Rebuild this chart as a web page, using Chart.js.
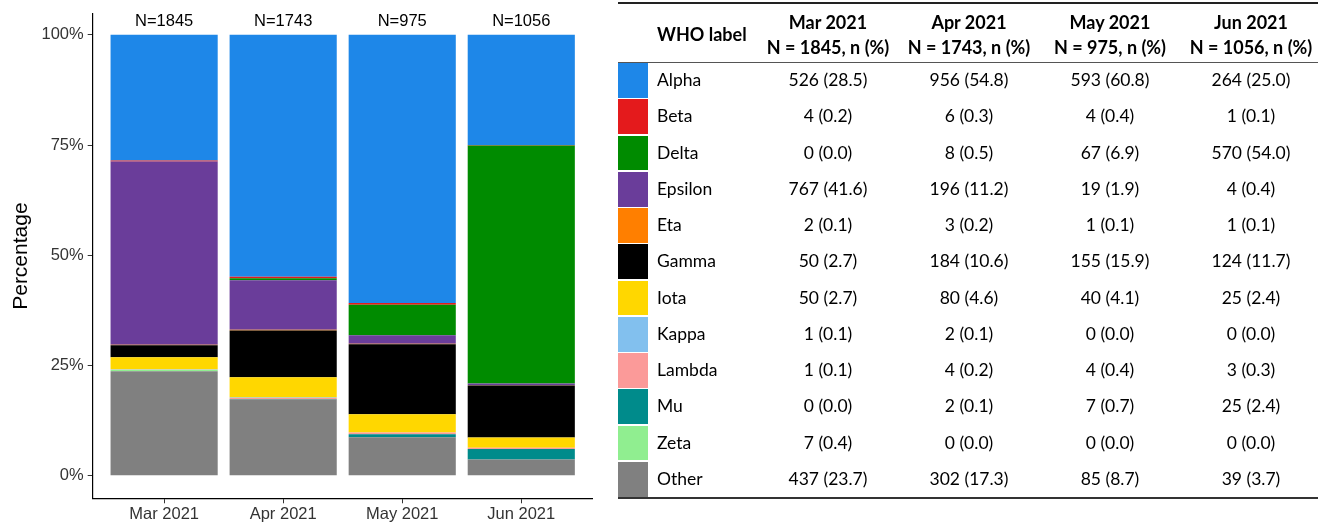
<!DOCTYPE html>
<html><head><meta charset="utf-8">
<script src="https://cdn.jsdelivr.net/npm/chart.js@4.4.1/dist/chart.umd.min.js"></script>
<style>
html,body{margin:0;padding:0;background:#fff;width:1318px;height:525px;overflow:hidden;}
#left{position:absolute;left:0;top:0;width:600px;height:525px;}
#tbl{position:absolute;left:0;top:0;width:1318px;height:525px;font-family:Lato,'Open Sans',sans-serif;color:#000;font-size:17.5px;}
.abs{position:absolute;white-space:nowrap;}
.b{font-weight:bold;font-size:18px;}
</style></head><body>
<div id="left"><canvas id="c" width="600" height="525"></canvas></div>
<div id="tbl"></div>
<script>
// ---- data ----
const months = ['Mar 2021', 'Apr 2021', 'May 2021', 'Jun 2021'];
const totals = [1845, 1743, 975, 1056];
const variants = ['Alpha', 'Beta', 'Delta', 'Epsilon', 'Eta', 'Gamma', 'Iota', 'Kappa', 'Lambda', 'Mu', 'Zeta', 'Other'];
const colors = ['#1E87E8', '#E41A1C', '#008B00', '#6A3D9A', '#FF7F00', '#000000', '#FFD700', '#82C0EE', '#FB9A99', '#008B8B', '#90EE90', '#808080'];
const alpha   = [526, 956, 593, 264];
const beta    = [4, 6, 4, 1];
const delta   = [0, 8, 67, 570];
const epsilon = [767, 196, 19, 4];
const eta     = [2, 3, 1, 1];
const gamma   = [50, 184, 155, 124];
const iota    = [50, 80, 40, 25];
const kappa   = [1, 2, 0, 0];
const lambdaV = [1, 4, 4, 3];
const mu      = [0, 2, 7, 25];
const zeta    = [7, 0, 0, 0];
const other   = [437, 302, 85, 39];
const yTicks  = [0, 25, 50, 75, 100];
const counts = [alpha, beta, delta, epsilon, eta, gamma, iota, kappa, lambdaV, mu, zeta, other];

// ---- chart ----
const FONT = '"Liberation Sans", Arial, sans-serif';
const datasets = variants.map((v, k) => ({
  label: v,
  data: counts[k].map((n, i) => ({x: i, y: n / totals[i] * 100})),
  backgroundColor: colors[k],
  borderWidth: 0,
  barPercentage: 0.9,
  categoryPercentage: 1.0
})).reverse();

const nLabels = {
  id: 'nLabels',
  afterDatasetsDraw(chart) {
    const ctx = chart.ctx, xs = chart.scales.x, ys = chart.scales.y;
    ctx.save();
    ctx.font = '16.5px ' + FONT;
    ctx.fillStyle = '#000';
    ctx.textAlign = 'center';
    ctx.textBaseline = 'middle';
    totals.forEach((n, i) => ctx.fillText('N=' + n, xs.getPixelForValue(i), ys.getPixelForValue(100) - 13.5));
    ctx.restore();
  }
};

new Chart(document.getElementById('c'), {
  type: 'bar',
  data: {datasets},
  plugins: [nLabels],
  options: {
    responsive: false,
    animation: false,
    devicePixelRatio: 1,
    layout: {padding: {left: 0, right: 7.3, top: 12.7, bottom: 0}},
    plugins: {legend: {display: false}, tooltip: {enabled: false}},
    scales: {
      x: {
        type: 'linear', stacked: true, min: -0.6, max: 3.6, offset: false,
        afterBuildTicks: s => { s.ticks = months.map((m, i) => ({value: i})); },
        afterFit: s => { s.height = 26.7; },
        ticks: {callback: v => months[v], font: {family: FONT, size: 16.5}, color: '#333', padding: 1, maxRotation: 0, autoSkip: false},
        grid: {offset: false, drawOnChartArea: false, tickLength: 5, color: '#333', lineWidth: 1},
        border: {display: true, color: '#000', width: 1.2}
      },
      y: {
        stacked: true, min: -5.1, max: 104.75,
        afterBuildTicks: s => { s.ticks = yTicks.map(v => ({value: v})); },
        afterFit: s => { s.width = 92.7; },
        ticks: {callback: v => v + '%', font: {family: FONT, size: 16.5}, color: '#333', padding: 4},
        grid: {drawOnChartArea: false, tickLength: 5, color: '#333', lineWidth: 1},
        border: {display: true, color: '#000', width: 1.2},
        title: {display: true, text: 'Percentage', font: {family: FONT, size: 21}, color: '#000', padding: {top: 9, bottom: 0}}
      }
    }
  }
});

// ---- table ----
const tbl = document.getElementById('tbl');
const colCenters = [828, 969, 1110, 1251];
const rowTop = 62, rowH = 36.25;
function add(html, css, cls) {
  const d = document.createElement('div');
  d.className = 'abs ' + (cls || '');
  d.innerHTML = html;
  Object.assign(d.style, css);
  tbl.appendChild(d);
}
add('', {left: '618px', top: '2px', width: '700px', height: '2px', background: '#222'});
add('', {left: '618px', top: '61.5px', width: '700px', height: '1px', background: '#555'});
add('', {left: '618px', top: '497px', width: '700px', height: '2px', background: '#333'});
add('WHO label', {left: '657px', top: '22px', lineHeight: '24px'}, 'b');
months.forEach((m, i) => {
  add(m, {left: (colCenters[i] - 75) + 'px', width: '150px', textAlign: 'center', top: '10px', lineHeight: '24px'}, 'b');
  add('N = ' + totals[i] + ', n (%)', {left: (colCenters[i] - 75) + 'px', width: '150px', textAlign: 'center', top: '35px', lineHeight: '24px'}, 'b');
});
variants.forEach((v, k) => {
  const t = rowTop + k * rowH;
  add('', {left: '618px', top: (t + 1) + 'px', width: '30px', height: (rowH - 1.5) + 'px', background: colors[k]});
  add(v, {left: '657px', top: t + 'px', height: rowH + 'px', lineHeight: rowH + 'px'});
  counts[k].forEach((n, i) => {
    add(n + ' (' + (n / totals[i] * 100).toFixed(1) + ')', {left: (colCenters[i] - 70) + 'px', width: '140px', textAlign: 'center', top: t + 'px', lineHeight: rowH + 'px'});
  });
});
</script>
</body></html>
